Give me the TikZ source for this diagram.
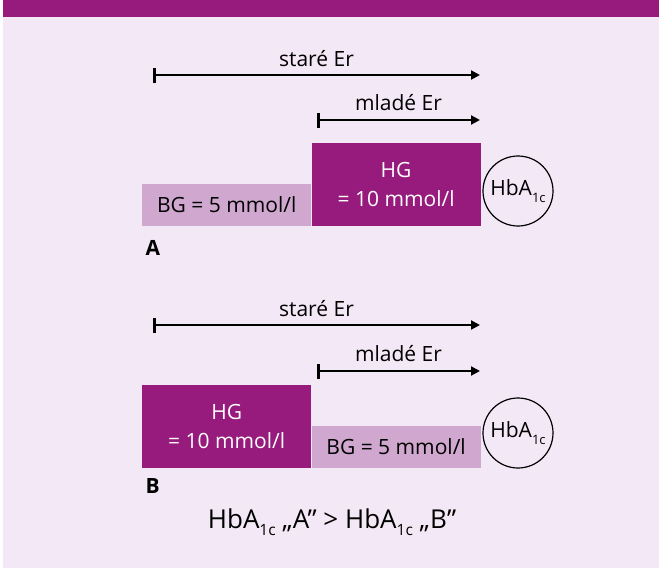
\documentclass[tikz,border=0pt]{standalone}
\usepackage{fontspec}
\setmainfont{Open Sans}
\usetikzlibrary{arrows.meta,positioning}
\definecolor{fialova}{RGB}{150,27,125}
\definecolor{svetla}{RGB}{207,167,207}
\definecolor{pozadi}{RGB}{243,232,245}
\newcommand{\idx}[1]{\raisebox{-0.3em}{\fontsize{#1}{#1}\selectfont 1c}}

\begin{document}
\begin{tikzpicture}[x=1pt,y=-1pt,
  er/.style={line width=2pt,{Bar[width=15pt,line width=3pt]}-{Triangle[length=9pt,width=9pt]}},
  popis/.style={anchor=base,font=\fontsize{21}{25}\selectfont},
  hg/.style={fill=fialova,text=white,align=center,minimum width=169pt,minimum height=83pt,inner sep=0pt,font=\fontsize{21}{29}\selectfont},
  bg/.style={fill=svetla,minimum width=169pt,minimum height=42pt,inner sep=0pt,font=\fontsize{21}{25}\selectfont},
  hba/.style={draw,circle,line width=1.2pt,minimum size=70pt,inner sep=0pt,font=\fontsize{21}{25}\selectfont},
  pismeno/.style={anchor=base west,font=\fontsize{21}{25}\selectfont\bfseries}]
% pozadi a horni pruh
\fill[white] (0,0) rectangle (659,573);
\fill[pozadi] (3,0) rectangle (659,568);
\fill[fialova] (3,0) rectangle (659,17);

% A
\coordinate (sA1) at (153,75);
\coordinate (sA2) at (480,75);
\coordinate (mA1) at (317,120);
\coordinate (mA2) at (480,120);
\draw[er] (sA1) -- (sA2) node[midway,popis,yshift=9pt] (tsA) {staré Er};
\draw[er] (mA1) -- (mA2) node[midway,popis,yshift=10pt] (tmA) {mladé Er};
\node[bg,anchor=south west] (bgA) at (142,226) {BG = 5 mmol/l};
\node[hg,anchor=south west] (hgA) at (bgA.south east) {HG\\= 10 mmol/l};
\node[hba] (hbaA) at (518,191) {HbA\idx{13}};
\node[pismeno] (pA) at (142,255) {A};

% B
\coordinate (sB1) at (153,325);
\coordinate (sB2) at (480,325);
\coordinate (mB1) at (317,371);
\coordinate (mB2) at (480,371);
\draw[er] (sB1) -- (sB2) node[midway,popis,yshift=9pt] (tsB) {staré Er};
\draw[er] (mB1) -- (mB2) node[midway,popis,yshift=10pt] (tmB) {mladé Er};
\node[hg,anchor=south west] (hgB) at (142,468) {HG\\= 10 mmol/l};
\node[bg,anchor=south west] (bgB) at (hgB.south east) {BG = 5 mmol/l};
\node[hba] (hbaB) at (518,433) {HbA\idx{13}};
\node[pismeno] (pB) at (142,493) {B};

\node[anchor=base,font=\fontsize{26}{31}\selectfont] (vzorec) at (332,528) {HbA\idx{15.5} „A” > HbA\idx{15.5} „B”};
\end{tikzpicture}
\end{document}
